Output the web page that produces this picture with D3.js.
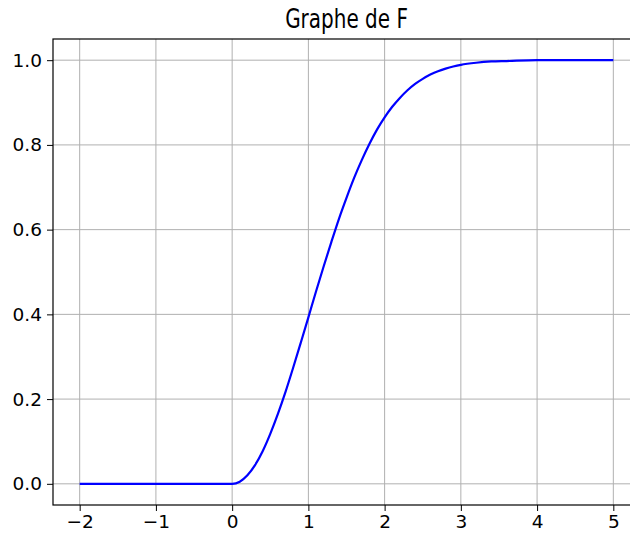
<!DOCTYPE html>
<html>
<head>
<meta charset="utf-8">
<script src="https://cdn.jsdelivr.net/npm/d3@7"></script>
<style>
  body { margin: 0; background: #fff; overflow: hidden; }
  text { font-family: "DejaVu Sans", sans-serif; fill: #000; }
</style>
</head>
<body>
<div id="chart"></div>
<script>
// points
const xs = [-2, 0, 0.1, 0.2, 0.3, 0.4, 0.5, 0.6, 0.7, 0.8, 0.9, 1.0, 1.1, 1.2, 1.3, 1.4, 1.5, 1.6, 1.7, 1.8, 1.9, 2.0, 2.1, 2.2, 2.3, 2.4, 2.5, 2.6, 2.7, 2.8, 2.9, 3.0, 3.2, 3.4, 3.6, 4.0, 5.0];
const ys = [0, 0, 0.005, 0.020, 0.044, 0.077, 0.118, 0.165, 0.217, 0.274, 0.333, 0.393, 0.454, 0.513, 0.570, 0.625, 0.675, 0.722, 0.764, 0.802, 0.836, 0.865, 0.890, 0.911, 0.929, 0.944, 0.956, 0.966, 0.974, 0.980, 0.985, 0.989, 0.994, 0.997, 0.998, 1.0, 1.0];
const xTicks = [-2, -1, 0, 1, 2, 3, 4, 5];
const yTicks = [0.0, 0.2, 0.4, 0.6, 0.8, 1.0];
const title = "Graphe de F";

const width = 630;
const height = 539;
const margin = { top: 39, right: -10, bottom: 34, left: 53 };

const svg = d3.select("#chart")
  .append("svg")
  .attr("width", width)
  .attr("height", height);

const xScale = d3.scaleLinear()
  .domain([-2.35, 5.35])
  .range([margin.left, width - margin.right]);

const yScale = d3.scaleLinear()
  .domain([-0.05, 1.05])
  .range([height - margin.bottom, margin.top]);

// grid
svg.append("g")
  .selectAll("line")
  .data(xTicks)
  .join("line")
  .attr("x1", d => xScale(d)).attr("x2", d => xScale(d))
  .attr("y1", yScale.range()[0]).attr("y2", yScale.range()[1])
  .attr("stroke", "#b0b0b0").attr("stroke-width", 1);

svg.append("g")
  .selectAll("line")
  .data(yTicks)
  .join("line")
  .attr("x1", xScale.range()[0]).attr("x2", xScale.range()[1])
  .attr("y1", d => yScale(d)).attr("y2", d => yScale(d))
  .attr("stroke", "#b0b0b0").attr("stroke-width", 1);

// curve
const line = d3.line()
  .x((d, i) => xScale(d))
  .y((d, i) => yScale(ys[i]))
  .curve(d3.curveMonotoneX);

svg.append("path")
  .datum(xs)
  .attr("d", line)
  .attr("fill", "none")
  .attr("stroke", "#0000ff")
  .attr("stroke-width", 2.2);

// axes
const xAxis = svg.append("g")
  .attr("transform", `translate(0, ${height - margin.bottom})`)
  .call(d3.axisBottom(xScale).tickValues(xTicks).tickSize(6).tickPadding(4)
    .tickFormat(d => d < 0 ? "\u2212" + Math.abs(d) : d));

const yAxis = svg.append("g")
  .attr("transform", `translate(${margin.left}, 0)`)
  .call(d3.axisLeft(yScale).tickValues(yTicks).tickSize(6).tickPadding(5)
    .tickFormat(d3.format(".1f")));

[xAxis, yAxis].forEach(g => {
  g.select(".domain").remove();
  g.selectAll("line").attr("stroke", "#000").attr("stroke-width", 1);
  g.selectAll("text").attr("font-size", 18.5).attr("font-family", "DejaVu Sans");
});

// frame
svg.append("rect")
  .attr("x", xScale.range()[0])
  .attr("y", yScale.range()[1])
  .attr("width", xScale.range()[1] - xScale.range()[0])
  .attr("height", yScale.range()[0] - yScale.range()[1])
  .attr("fill", "none")
  .attr("stroke", "#000")
  .attr("stroke-width", 1.2);

// title is drawn narrow and tall, like the picture
const cx = (xScale.range()[0] + xScale.range()[1]) / 2;
svg.append("text")
  .attr("transform", `translate(${cx}, 28) scale(0.74, 1)`)
  .attr("text-anchor", "middle")
  .attr("font-size", 27)
  .text(title);
</script>
</body>
</html>
